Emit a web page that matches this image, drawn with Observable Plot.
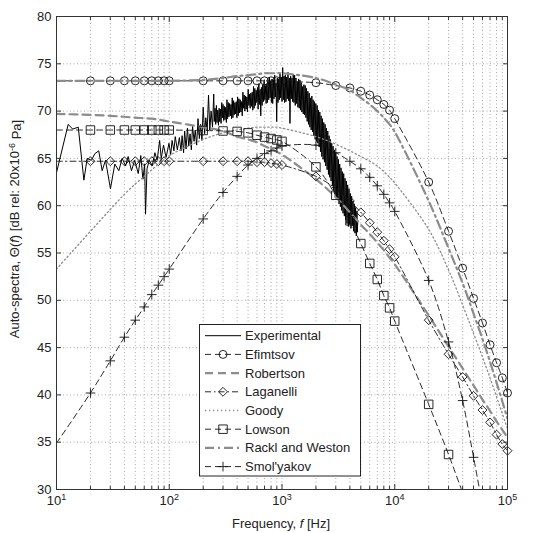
<!DOCTYPE html>
<html><head><meta charset="utf-8">
<script src="https://cdn.jsdelivr.net/npm/d3@7"></script>
<script src="https://cdn.jsdelivr.net/npm/@observablehq/plot@0.6"></script>
<style>body{margin:0;background:#fff;} #chart svg{display:block;}</style>
</head><body><div id="chart"></div>
<script>
// ---- data ----
const freqs = [10,20,30,40,50,60,70,80,90,100,200,300,400,500,600,700,800,900,1000,2000,3000,4000,5000,6000,7000,8000,9000,10000,20000,30000,40000,50000,60000,70000,80000,90000,100000];
const efimtsov = [73.2,73.2,73.2,73.2,73.2,73.2,73.2,73.2,73.2,73.2,73.2,73.2,73.2,73.2,73.2,73.2,73.2,73.2,73.15,73.0,72.7,72.45,72.1,71.7,71.2,70.7,70.1,69.2,62.5,57.3,53.4,50.2,47.6,45.3,43.4,41.8,40.2];
const robertson = [69.7,69.6,69.5,69.4,69.3,69.25,69.2,69.1,69.0,68.9,68.3,67.9,67.3,67.0,66.7,66.3,66.0,65.7,65.4,62.8,60.9,59.3,58.0,57.0,56.1,55.3,54.5,53.8,48.4,45.1,42.8,41.0,39.5,38.3,37.2,36.3,35.5];
const laganelli = [64.7,64.7,64.7,64.7,64.7,64.7,64.7,64.7,64.7,64.7,64.7,64.7,64.7,64.7,64.6,64.6,64.5,64.4,64.3,63.1,61.8,60.5,59.3,58.2,57.2,56.3,55.4,54.6,47.9,44.3,41.9,39.9,38.4,37.1,35.8,34.8,34.1];
const goody = [53.3,57.3,59.6,61.2,62.3,63.1,63.8,64.4,64.9,65.3,67.0,67.7,68.0,68.2,68.3,68.3,68.3,68.3,68.2,67.3,66.5,65.8,65.2,64.7,64.2,63.6,63.0,62.4,57.5,53.2,49.5,46.5,44.0,41.8,39.8,38.0,36.4];
const lowson = [68.0,68.0,68.0,68.0,68.0,68.0,68.0,68.0,68.0,68.0,67.95,67.9,67.85,67.7,67.45,67.25,67.1,66.95,66.8,64.1,61.1,58.4,56.0,53.9,52.2,50.5,49.2,47.8,39.0,33.7,29.7,26.9,24.4,22.3,20.5,18.9,17.5];
const racklWeston = [73.2,73.2,73.2,73.2,73.2,73.2,73.2,73.2,73.2,73.2,73.3,73.5,73.7,73.8,73.9,74.0,74.0,74.0,74.0,73.5,72.8,72.2,71.4,70.7,70.0,69.3,68.6,67.8,60.5,55.5,51.8,48.6,45.9,43.5,41.3,39.3,37.5];
const smolyakov = [34.9,40.2,43.6,46.1,47.9,49.3,50.6,51.6,52.5,53.3,58.6,61.4,63.1,64.3,65.0,65.5,65.8,66.1,66.3,66.4,65.6,64.7,63.9,63.0,62.1,61.2,60.3,59.4,52.1,45.6,39.4,33.4,28.3,24.0,20.0,17.0,14.0];
const experimental = [[10,63.5],[12.7,68.6],[13.9,68.1],[15.6,68.3],[17.5,62.7],[18.7,65.0],[20.4,64.8],[21.9,65.5],[23.7,65.8],[25.4,63.7],[27.2,64.8],[30.1,61.8],[32.9,64.4],[35.7,63.7],[38.2,65.0],[41.0,64.2],[43.2,65.2],[46.2,63.7],[49.4,64.8],[53.1,63.4],[55.9,65.3],[58.4,62.8],[60.5,64.4],[61.6,59.1],[63.5,63.9],[66.5,64.8],[70.6,64.2],[74.6,65.6],[78.1,64.8],[82.2,66.9],[84.9,65.0],[88.9,66.4],[93.8,65.1],[99.4,66.6],[103,65.4],[106,66.9],[110,65.8],[113,67.3],[118,65.9],[123,67.2],[127,65.8],
[130,67.4],[134,65.6],[137,67.9],[141,66.0],[145,68.2],[149,66.3],[153,67.6],[157,65.9],[161,68.4],[166,66.8],[170,68.0],[175,66.4],[180,69.2],[185,67.1],[190,68.6],[195,66.9],[200,70.4],[206,67.6],[211,69.3],[217,67.9],[223,71.7],[229,68.0],[235,70.0],[242,68.3],
[248,71.8],[251,68.9],[255,70.3],[258,68.6],[262,70.6],[265,68.8],[269,70.1],[273,68.5],[277,70.3],[280,68.9],[284,70.2],[288,68.7],[292,70.9],[296,69.3],[300,70.7],[304,69.0],[308,70.5],[312,69.1],[317,70.4],[321,68.8],[325,71.2],[329,69.2],[334,70.9],[338,69.4],[343,70.8],[348,69.5],[353,70.7],[357,69.2],[362,71.4],[367,69.3],[372,71.1],[377,69.6],[382,70.9],[387,69.7],[393,71.0],[398,69.3],[404,71.5],[409,69.5],[415,71.3],[420,69.8],[426,71.2],[432,69.9],[438,71.0],[444,69.5],[450,72.0],[456,70.3],[462,71.7],[468,70.0],[475,71.6],[481,70.2],[488,71.5],[494,69.9],
[501,72.3],[508,70.6],[515,71.8],[522,70.3],[529,71.9],[536,70.5],[544,72.0],[551,70.1],[559,72.6],[566,70.3],[574,72.4],[582,70.6],[590,72.2],[598,70.9],[606,72.5],[614,70.2],[623,72.9],[631,70.7],[640,72.3],[648,69.5],[657,72.5],[666,70.6],[675,72.8],[684,71.0],[694,73.3],[703,71.2],[713,72.7],[723,70.8],[733,72.9],[743,70.9],[753,73.1],[763,71.2],[773,73.6],[784,71.4],[795,73.2],[805,70.9],[816,73.4],[827,70.8],[839,73.3],[850,71.3],[862,73.8],[873,71.5],[885,73.0],[897,68.9],[910,73.5],[922,70.9],[935,73.4],[947,71.2],[960,74.0],[973,71.4],[987,73.6],
[1000,71.0],[1014,74.6],[1028,71.2],[1042,73.7],[1056,70.9],[1070,73.8],[1085,71.0],[1100,73.6],[1115,71.3],[1130,74.1],[1145,71.1],[1161,73.5],[1177,68.7],[1193,73.7],[1209,71.3],[1226,73.5],[1242,71.0],[1259,73.9],[1276,70.9],[1294,73.8],[1311,70.6],[1329,73.5],[1347,70.8],[1366,73.1],[1384,70.4],[1403,73.4],[1422,70.3],[1442,73.3],[1461,70.1],[1481,73.0],[1501,69.9],[1522,72.6],[1543,69.7],[1564,72.8],[1585,69.6],[1607,72.7],[1629,69.3],[1651,72.4],[1673,68.9],[1696,72.1],[1719,68.6],[1743,71.9],[1767,68.3],[1791,71.4],[1815,68.0],[1840,71.6],[1865,67.8],[1890,71.2],[1916,67.4],[1942,71.0],[1969,67.0],[1996,70.8],
[2023,66.8],[2050,70.6],[2078,66.6],[2107,70.1],[2136,66.2],[2165,69.9],[2194,65.7],[2224,69.5],[2254,65.2],[2285,69.2],[2316,64.9],[2348,68.8],[2380,64.6],[2412,68.6],[2445,64.2],[2479,68.2],[2513,63.8],[2547,67.9],[2582,63.3],[2617,67.4],[2652,63.0],[2688,67.0],[2725,62.6],[2762,66.6],[2800,62.1],[2838,66.3],[2877,61.6],[2916,65.9],[2956,61.2],[2996,65.6],[3037,60.9],[3078,65.2],[3120,60.6],[3163,64.9],[3206,60.2],[3250,64.4],[3294,59.9],[3339,64.0],[3384,59.5],[3430,63.6],[3477,59.2],[3525,63.4],[3573,58.9],[3621,62.9],[3671,58.5],[3721,62.6],[3772,58.1],[3823,62.2],[3875,57.8],[3928,61.8],[3982,58.0],[4036,61.3],[4091,57.6],[4146,61.0],[4203,57.9],[4260,60.5],[4318,57.3],[4377,60.2],[4437,57.1],[4497,59.8],[4559,56.8],[4621,59.4],[4660,57.2],[4700,58.4]];
const seriesNames = ["Experimental","Efimtsov","Robertson","Laganelli","Goody","Lowson","Rackl and Weston","Smol'yakov"];
const xDecades = [10,100,1000,10000,100000];
const yTicks = [30,35,40,45,50,55,60,65,70,75,80];

// ---- styles ----
const GRAY = "#8c8c8c";
const styles = {
  "Experimental": {stroke:"#000", width:1, dash:null, symbol:null},
  "Efimtsov": {stroke:"#111", width:0.9, dash:"6,4", symbol:"circle", r:4},
  "Robertson": {stroke:GRAY, width:2.2, dash:"8,5", symbol:null},
  "Laganelli": {stroke:"#111", width:0.9, dash:"6,3,1.5,3", symbol:"diamond2", r:4},
  "Goody": {stroke:GRAY, width:1.3, dash:"1.3,2.7", symbol:null},
  "Lowson": {stroke:"#111", width:0.9, dash:"6,4", symbol:"square2", r:5.4},
  "Rackl and Weston": {stroke:GRAY, width:2.2, dash:"9,4,2,4", symbol:null},
  "Smol'yakov": {stroke:"#111", width:0.9, dash:"6,4", symbol:"plus", r:3.2}
};
const modelValues = {"Efimtsov":efimtsov,"Robertson":robertson,"Laganelli":laganelli,"Goody":goody,"Lowson":lowson,"Rackl and Weston":racklWeston,"Smol'yakov":smolyakov};

const minorX = [];
for (const d of [10,100,1000,10000]) for (let k=2;k<=9;k++) minorX.push(d*k);
const gridXv = minorX.concat([100,1000,10000]);
const gridYv = yTicks.slice(1,-1);

const marks = [
  Plot.gridX(gridXv, {stroke:"#a8a8a8", strokeOpacity:1, strokeDasharray:"1,2.5"}),
  Plot.gridY(gridYv, {stroke:"#a8a8a8", strokeOpacity:1, strokeDasharray:"1,2.5"}),
  Plot.line(experimental, {x:d=>d[0], y:d=>d[1], stroke:"#000", strokeWidth:1})
];
for (const name of seriesNames.slice(1)) {
  const st = styles[name];
  const rows = freqs.map((f,i)=>({f, v:modelValues[name][i]}));
  marks.push(Plot.line(rows, {x:"f", y:"v", stroke:st.stroke, strokeWidth:st.width, strokeDasharray:st.dash, curve:"catmull-rom", clip:true}));
  if (st.symbol) {
    marks.push(Plot.dot(rows.filter(d=>d.f>10 && d.v>=30), {x:"f", y:"v", symbol:st.symbol, r:st.r, stroke:st.stroke, strokeWidth:0.9, fill:"none"}));
  }
}
marks.push(
  Plot.frame({stroke:"#333", strokeWidth:1}),
  Plot.axisX(xDecades, {anchor:"bottom", tickSize:-5, tickFormat:()=>"", label:null, stroke:"#333"}),
  Plot.axisX(minorX, {anchor:"bottom", tickSize:-3, tickFormat:()=>"", label:null, stroke:"#333"}),
  Plot.axisX(xDecades, {anchor:"top", tickSize:-5, tickFormat:()=>"", label:null, stroke:"#333"}),
  Plot.axisX(minorX, {anchor:"top", tickSize:-3, tickFormat:()=>"", label:null, stroke:"#333"}),
  Plot.axisX(xDecades, {anchor:"bottom", tickSize:0, tickPadding:6, tickFormat:d=>"10^"+Math.round(Math.log10(d)), label:null, fill:"#222"}),
  Plot.axisY(yTicks, {anchor:"left", tickSize:-5, tickFormat:()=>"", label:null, stroke:"#333"}),
  Plot.axisY(yTicks, {anchor:"right", tickSize:-5, tickFormat:()=>"", label:null, stroke:"#333"}),
  Plot.axisY(yTicks, {anchor:"left", tickSize:0, tickPadding:5, label:null, fill:"#222"})
);

const svgNode = Plot.plot({
  width:534, height:533,
  marginLeft:56, marginRight:27, marginTop:16, marginBottom:44,
  x:{type:"log", domain:[10,1e5]},
  y:{domain:[30,80]},
  style:{fontFamily:"'Liberation Sans', Arial, sans-serif", fontSize:"13px", color:"#222", background:"#fff"},
  marks
});
document.getElementById("chart").appendChild(svgNode);

// ---- post-process: superscripts, axis labels, legend ----
const svg = d3.select(svgNode);
svg.selectAll('g[aria-label="x-axis tick label"] text').each(function(){
  const t = d3.select(this); const s = t.text();
  if (s.indexOf("^") < 0) return;
  const [b,e] = s.split("^");
  t.text(b);
  t.append("tspan").attr("dy","-0.55em").attr("font-size","9px").text(e);
});
const font = "'Liberation Sans', Arial, sans-serif";
const xl = svg.append("text").attr("x",281).attr("y",528).attr("text-anchor","middle")
  .attr("font-family",font).attr("font-size",13).attr("fill","#222");
xl.append("tspan").text("Frequency, ");
xl.append("tspan").attr("font-style","italic").text("f");
xl.append("tspan").text(" [Hz]");
const yl = svg.append("text").attr("transform","translate(19,229) rotate(-90)").attr("text-anchor","middle")
  .attr("font-family",font).attr("font-size",13).attr("fill","#222");
yl.append("tspan").text("Auto-spectra, \u0398(");
yl.append("tspan").attr("font-style","italic").text("f");
yl.append("tspan").text(") [dB rel: 20x10");
yl.append("tspan").attr("dy","-0.5em").attr("font-size","9px").text("-6");
yl.append("tspan").attr("dy","0.5em").text(" Pa]");

// legend
const lg = svg.append("g");
lg.append("rect").attr("x",199.5).attr("y",324.5).attr("width",161).attr("height",151.5)
  .attr("fill","#fff").attr("stroke","#222").attr("stroke-width",1);
seriesNames.forEach((name,i)=>{
  const st = styles[name];
  const yy = 335.7 + i*18.7;
  lg.append("line").attr("x1",205).attr("x2",241).attr("y1",yy).attr("y2",yy)
    .attr("stroke",st.stroke).attr("stroke-width",st.width)
    .attr("stroke-dasharray",st.dash);
  if (st.symbol) {
    const sym = {circle:d3.symbolCircle, diamond2:d3.symbolDiamond2, square2:d3.symbolSquare2, plus:d3.symbolPlus}[st.symbol];
    lg.append("path").attr("transform",`translate(223,${yy})`)
      .attr("d", d3.symbol(sym, Math.PI*st.r*st.r)())
      .attr("fill","none").attr("stroke",st.stroke).attr("stroke-width",0.9);
  }
  lg.append("text").attr("x",245).attr("y",yy).attr("dy","0.35em").attr("text-anchor","start")
    .attr("font-family",font).attr("font-size",13).attr("fill","#222").text(name);
});
</script>
</body></html>
